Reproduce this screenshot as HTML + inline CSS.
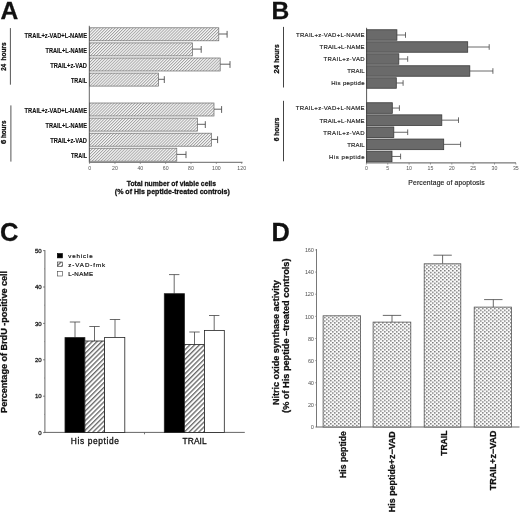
<!DOCTYPE html>
<html><head><meta charset="utf-8"><style>
html,body{margin:0;padding:0;background:#fff;width:520px;height:516px;overflow:hidden}
svg{display:block;font-family:"Liberation Sans", sans-serif;filter:blur(0.35px)}
</style></head><body>
<svg width="520" height="516" viewBox="0 0 520 516">
<defs>
<pattern id="hA" patternUnits="userSpaceOnUse" width="2.1" height="2.1" patternTransform="rotate(45)">
 <rect width="2.1" height="2.1" fill="#f6f6f6"/><rect width="0.9" height="2.1" fill="#a2a2a2"/></pattern>
<pattern id="hC" patternUnits="userSpaceOnUse" width="3.4" height="3.4" patternTransform="rotate(45)">
 <rect width="3.4" height="3.4" fill="#fff"/><rect width="1.35" height="3.4" fill="#6a6a6a"/></pattern>
<pattern id="hD" patternUnits="userSpaceOnUse" width="4" height="3.6">
 <rect width="4" height="3.6" fill="#fbfbfb"/><rect x="0" y="0" width="1.6" height="1.4" fill="#7c7c7c"/><rect x="2" y="1.8" width="1.6" height="1.4" fill="#7c7c7c"/></pattern>
</defs>
<text x="0.5" y="19.4" font-size="24.6" font-weight="bold" text-anchor="start" fill="#111" stroke="#111" stroke-width="0.28">A</text>
<line x1="10.4" y1="28.1" x2="10.4" y2="84.7" stroke="#555" stroke-width="1"/>
<line x1="10.9" y1="105.4" x2="10.9" y2="161.6" stroke="#555" stroke-width="1"/>
<text transform="translate(6.3,70.7) rotate(-90)" font-size="7.0" font-weight="bold" text-anchor="start" fill="#111" textLength="6.8" lengthAdjust="spacingAndGlyphs" stroke="#111" stroke-width="0.28">24</text>
<text transform="translate(6.3,60.4) rotate(-90)" font-size="7.0" font-weight="bold" text-anchor="start" fill="#111" textLength="18.0" lengthAdjust="spacingAndGlyphs" stroke="#111" stroke-width="0.28">hours</text>
<text transform="translate(6.4,144.0) rotate(-90)" font-size="7.0" font-weight="bold" text-anchor="start" fill="#111" textLength="4.3" lengthAdjust="spacingAndGlyphs" stroke="#111" stroke-width="0.28">6</text>
<text transform="translate(6.4,138.1) rotate(-90)" font-size="7.0" font-weight="bold" text-anchor="start" fill="#111" textLength="17.5" lengthAdjust="spacingAndGlyphs" stroke="#111" stroke-width="0.28">hours</text>
<rect x="89.6" y="27.8" width="129.20000000000002" height="13.0" fill="url(#hA)" stroke="#6a6a6a" stroke-width="0.7"/>
<line x1="218.8" y1="34.0" x2="227.1" y2="34.0" stroke="#444" stroke-width="0.85"/>
<line x1="227.1" y1="30.9" x2="227.1" y2="37.699999999999996" stroke="#444" stroke-width="0.85"/>
<text x="87" y="37.699999999999996" font-size="6.6" font-weight="bold" text-anchor="end" fill="#111" textLength="62.4" lengthAdjust="spacingAndGlyphs" stroke="#111" stroke-width="0.12">TRAIL+z-VAD+L-NAME</text>
<rect x="89.6" y="42.9" width="102.9" height="13.0" fill="url(#hA)" stroke="#6a6a6a" stroke-width="0.7"/>
<line x1="192.5" y1="49.1" x2="201.2" y2="49.1" stroke="#444" stroke-width="0.85"/>
<line x1="201.2" y1="46.0" x2="201.2" y2="52.8" stroke="#444" stroke-width="0.85"/>
<text x="87" y="52.8" font-size="6.6" font-weight="bold" text-anchor="end" fill="#111" textLength="41.5" lengthAdjust="spacingAndGlyphs" stroke="#111" stroke-width="0.12">TRAIL+L-NAME</text>
<rect x="89.6" y="58.0" width="130.6" height="13.0" fill="url(#hA)" stroke="#6a6a6a" stroke-width="0.7"/>
<line x1="220.2" y1="64.2" x2="230" y2="64.2" stroke="#444" stroke-width="0.85"/>
<line x1="230" y1="61.1" x2="230" y2="67.9" stroke="#444" stroke-width="0.85"/>
<text x="87" y="67.9" font-size="6.6" font-weight="bold" text-anchor="end" fill="#111" textLength="36.8" lengthAdjust="spacingAndGlyphs" stroke="#111" stroke-width="0.12">TRAIL+z-VAD</text>
<rect x="89.6" y="73.1" width="68.80000000000001" height="13.0" fill="url(#hA)" stroke="#6a6a6a" stroke-width="0.7"/>
<line x1="158.4" y1="79.3" x2="164.3" y2="79.3" stroke="#444" stroke-width="0.85"/>
<line x1="164.3" y1="76.19999999999999" x2="164.3" y2="83.0" stroke="#444" stroke-width="0.85"/>
<text x="87" y="83.0" font-size="6.6" font-weight="bold" text-anchor="end" fill="#111" textLength="16" lengthAdjust="spacingAndGlyphs" stroke="#111" stroke-width="0.12">TRAIL</text>
<rect x="89.6" y="103.0" width="124.4" height="13.0" fill="url(#hA)" stroke="#6a6a6a" stroke-width="0.7"/>
<line x1="214" y1="109.2" x2="221.6" y2="109.2" stroke="#444" stroke-width="0.85"/>
<line x1="221.6" y1="106.1" x2="221.6" y2="112.9" stroke="#444" stroke-width="0.85"/>
<text x="87" y="112.9" font-size="6.6" font-weight="bold" text-anchor="end" fill="#111" textLength="62.4" lengthAdjust="spacingAndGlyphs" stroke="#111" stroke-width="0.12">TRAIL+z-VAD+L-NAME</text>
<rect x="89.6" y="118.1" width="107.9" height="13.0" fill="url(#hA)" stroke="#6a6a6a" stroke-width="0.7"/>
<line x1="197.5" y1="124.3" x2="205.3" y2="124.3" stroke="#444" stroke-width="0.85"/>
<line x1="205.3" y1="121.19999999999999" x2="205.3" y2="128.0" stroke="#444" stroke-width="0.85"/>
<text x="87" y="128.0" font-size="6.6" font-weight="bold" text-anchor="end" fill="#111" textLength="41.5" lengthAdjust="spacingAndGlyphs" stroke="#111" stroke-width="0.12">TRAIL+L-NAME</text>
<rect x="89.6" y="133.2" width="122.0" height="13.0" fill="url(#hA)" stroke="#6a6a6a" stroke-width="0.7"/>
<line x1="211.6" y1="139.39999999999998" x2="217.6" y2="139.39999999999998" stroke="#444" stroke-width="0.85"/>
<line x1="217.6" y1="136.29999999999998" x2="217.6" y2="143.1" stroke="#444" stroke-width="0.85"/>
<text x="87" y="143.1" font-size="6.6" font-weight="bold" text-anchor="end" fill="#111" textLength="36.8" lengthAdjust="spacingAndGlyphs" stroke="#111" stroke-width="0.12">TRAIL+z-VAD</text>
<rect x="89.6" y="148.2" width="87.20000000000002" height="13.0" fill="url(#hA)" stroke="#6a6a6a" stroke-width="0.7"/>
<line x1="176.8" y1="154.39999999999998" x2="186" y2="154.39999999999998" stroke="#444" stroke-width="0.85"/>
<line x1="186" y1="151.29999999999998" x2="186" y2="158.1" stroke="#444" stroke-width="0.85"/>
<text x="87" y="158.1" font-size="6.6" font-weight="bold" text-anchor="end" fill="#111" textLength="16" lengthAdjust="spacingAndGlyphs" stroke="#111" stroke-width="0.12">TRAIL</text>
<line x1="89.3" y1="25.8" x2="89.3" y2="162.6" stroke="#555" stroke-width="0.9"/>
<line x1="89.3" y1="162.3" x2="242.5" y2="162.3" stroke="#555" stroke-width="0.9"/>
<line x1="89.6" y1="162.3" x2="89.6" y2="164" stroke="#666" stroke-width="0.6"/>
<text x="89.6" y="169.6" font-size="5.2" font-weight="normal" text-anchor="middle" fill="#555">0</text>
<line x1="114.94999999999999" y1="162.3" x2="114.94999999999999" y2="164" stroke="#666" stroke-width="0.6"/>
<text x="114.94999999999999" y="169.6" font-size="5.2" font-weight="normal" text-anchor="middle" fill="#555">20</text>
<line x1="140.3" y1="162.3" x2="140.3" y2="164" stroke="#666" stroke-width="0.6"/>
<text x="140.3" y="169.6" font-size="5.2" font-weight="normal" text-anchor="middle" fill="#555">40</text>
<line x1="165.65" y1="162.3" x2="165.65" y2="164" stroke="#666" stroke-width="0.6"/>
<text x="165.65" y="169.6" font-size="5.2" font-weight="normal" text-anchor="middle" fill="#555">60</text>
<line x1="191.0" y1="162.3" x2="191.0" y2="164" stroke="#666" stroke-width="0.6"/>
<text x="191.0" y="169.6" font-size="5.2" font-weight="normal" text-anchor="middle" fill="#555">80</text>
<line x1="216.35" y1="162.3" x2="216.35" y2="164" stroke="#666" stroke-width="0.6"/>
<text x="216.35" y="169.6" font-size="5.2" font-weight="normal" text-anchor="middle" fill="#555">100</text>
<line x1="241.70000000000002" y1="162.3" x2="241.70000000000002" y2="164" stroke="#666" stroke-width="0.6"/>
<text x="241.70000000000002" y="169.6" font-size="5.2" font-weight="normal" text-anchor="middle" fill="#555">120</text>
<text x="171.4" y="186.2" font-size="7" font-weight="bold" text-anchor="middle" fill="#111" textLength="89.2" lengthAdjust="spacingAndGlyphs" stroke="#111" stroke-width="0.28">Total number of viable cells</text>
<text x="172.3" y="194.2" font-size="7" font-weight="bold" text-anchor="middle" fill="#111" textLength="115" lengthAdjust="spacingAndGlyphs" stroke="#111" stroke-width="0.28">(% of His peptide-treated controls)</text>
<text x="271.6" y="19.4" font-size="24.6" font-weight="bold" text-anchor="start" fill="#111" stroke="#111" stroke-width="0.28">B</text>
<line x1="283.5" y1="26.9" x2="283.5" y2="87.5" stroke="#444" stroke-width="1"/>
<line x1="283.5" y1="100.8" x2="283.5" y2="161.3" stroke="#444" stroke-width="1"/>
<text transform="translate(278.8,73.5) rotate(-90)" font-size="6.8" font-weight="bold" text-anchor="start" fill="#111" textLength="8.5" lengthAdjust="spacingAndGlyphs" stroke="#111" stroke-width="0.28">24</text>
<text transform="translate(278.8,62.8) rotate(-90)" font-size="6.8" font-weight="bold" text-anchor="start" fill="#111" textLength="18.4" lengthAdjust="spacingAndGlyphs" stroke="#111" stroke-width="0.28">hours</text>
<text transform="translate(278.6,141.3) rotate(-90)" font-size="6.8" font-weight="bold" text-anchor="start" fill="#111" textLength="3.8" lengthAdjust="spacingAndGlyphs" stroke="#111" stroke-width="0.28">6</text>
<text transform="translate(278.6,135.7) rotate(-90)" font-size="6.8" font-weight="bold" text-anchor="start" fill="#111" textLength="18.1" lengthAdjust="spacingAndGlyphs" stroke="#111" stroke-width="0.28">hours</text>
<rect x="366.4" y="29.75" width="30.5" height="10.5" fill="#6a6a6a" stroke="#3a3a3a" stroke-width="0.8"/>
<line x1="396.9" y1="35.0" x2="405.5" y2="35.0" stroke="#444" stroke-width="0.8"/>
<line x1="405.5" y1="32.2" x2="405.5" y2="37.8" stroke="#444" stroke-width="0.8"/>
<text x="364.6" y="37.4" font-size="6" font-weight="normal" text-anchor="end" fill="#222" textLength="68.6" lengthAdjust="spacing" stroke="#222" stroke-width="0.16">TRAIL+z-VAD+L-NAME</text>
<rect x="366.4" y="41.75" width="101.30000000000001" height="10.5" fill="#6a6a6a" stroke="#3a3a3a" stroke-width="0.8"/>
<line x1="467.7" y1="47.0" x2="489.2" y2="47.0" stroke="#444" stroke-width="0.8"/>
<line x1="489.2" y1="44.2" x2="489.2" y2="49.8" stroke="#444" stroke-width="0.8"/>
<text x="364.6" y="49.4" font-size="6" font-weight="normal" text-anchor="end" fill="#222" textLength="45" lengthAdjust="spacing" stroke="#222" stroke-width="0.16">TRAIL+L-NAME</text>
<rect x="366.4" y="53.75" width="32.400000000000034" height="10.5" fill="#6a6a6a" stroke="#3a3a3a" stroke-width="0.8"/>
<line x1="398.8" y1="59.0" x2="407.7" y2="59.0" stroke="#444" stroke-width="0.8"/>
<line x1="407.7" y1="56.2" x2="407.7" y2="61.8" stroke="#444" stroke-width="0.8"/>
<text x="364.6" y="61.4" font-size="6" font-weight="normal" text-anchor="end" fill="#222" textLength="41.1" lengthAdjust="spacing" stroke="#222" stroke-width="0.16">TRAIL+z-VAD</text>
<rect x="366.4" y="65.75" width="103.40000000000003" height="10.5" fill="#6a6a6a" stroke="#3a3a3a" stroke-width="0.8"/>
<line x1="469.8" y1="71.0" x2="492.9" y2="71.0" stroke="#444" stroke-width="0.8"/>
<line x1="492.9" y1="68.2" x2="492.9" y2="73.8" stroke="#444" stroke-width="0.8"/>
<text x="364.6" y="73.4" font-size="6" font-weight="normal" text-anchor="end" fill="#222" textLength="17.3" lengthAdjust="spacing" stroke="#222" stroke-width="0.16">TRAIL</text>
<rect x="366.4" y="77.75" width="29.900000000000034" height="10.5" fill="#6a6a6a" stroke="#3a3a3a" stroke-width="0.8"/>
<line x1="396.3" y1="83.0" x2="403.1" y2="83.0" stroke="#444" stroke-width="0.8"/>
<line x1="403.1" y1="80.2" x2="403.1" y2="85.8" stroke="#444" stroke-width="0.8"/>
<text x="364.6" y="85.4" font-size="6" font-weight="normal" text-anchor="end" fill="#222" textLength="33.4" lengthAdjust="spacing" stroke="#222" stroke-width="0.16">His peptide</text>
<rect x="366.4" y="102.75" width="25.900000000000034" height="10.6" fill="#6a6a6a" stroke="#3a3a3a" stroke-width="0.8"/>
<line x1="392.3" y1="108.05" x2="399.4" y2="108.05" stroke="#444" stroke-width="0.8"/>
<line x1="399.4" y1="105.25" x2="399.4" y2="110.85" stroke="#444" stroke-width="0.8"/>
<text x="364.6" y="110.45" font-size="6" font-weight="normal" text-anchor="end" fill="#222" textLength="68.8" lengthAdjust="spacing" stroke="#222" stroke-width="0.16">TRAIL+z-VAD+L-NAME</text>
<rect x="366.4" y="114.85" width="75.40000000000003" height="10.6" fill="#6a6a6a" stroke="#3a3a3a" stroke-width="0.8"/>
<line x1="441.8" y1="120.14999999999999" x2="458.5" y2="120.14999999999999" stroke="#444" stroke-width="0.8"/>
<line x1="458.5" y1="117.35" x2="458.5" y2="122.94999999999999" stroke="#444" stroke-width="0.8"/>
<text x="364.6" y="122.55" font-size="6" font-weight="normal" text-anchor="end" fill="#222" textLength="45.2" lengthAdjust="spacing" stroke="#222" stroke-width="0.16">TRAIL+L-NAME</text>
<rect x="366.4" y="126.95" width="27.400000000000034" height="10.6" fill="#6a6a6a" stroke="#3a3a3a" stroke-width="0.8"/>
<line x1="393.8" y1="132.25" x2="407.7" y2="132.25" stroke="#444" stroke-width="0.8"/>
<line x1="407.7" y1="129.45" x2="407.7" y2="135.05" stroke="#444" stroke-width="0.8"/>
<text x="364.6" y="134.65" font-size="6" font-weight="normal" text-anchor="end" fill="#222" textLength="41.3" lengthAdjust="spacing" stroke="#222" stroke-width="0.16">TRAIL+z-VAD</text>
<rect x="366.4" y="139.05" width="77.30000000000001" height="10.6" fill="#6a6a6a" stroke="#3a3a3a" stroke-width="0.8"/>
<line x1="443.7" y1="144.35000000000002" x2="460.6" y2="144.35000000000002" stroke="#444" stroke-width="0.8"/>
<line x1="460.6" y1="141.55" x2="460.6" y2="147.15000000000003" stroke="#444" stroke-width="0.8"/>
<text x="364.6" y="146.75000000000003" font-size="6" font-weight="normal" text-anchor="end" fill="#222" textLength="17.3" lengthAdjust="spacing" stroke="#222" stroke-width="0.16">TRAIL</text>
<rect x="366.4" y="151.15" width="25.600000000000023" height="10.6" fill="#6a6a6a" stroke="#3a3a3a" stroke-width="0.8"/>
<line x1="392" y1="156.45000000000002" x2="400.6" y2="156.45000000000002" stroke="#444" stroke-width="0.8"/>
<line x1="400.6" y1="153.65" x2="400.6" y2="159.25000000000003" stroke="#444" stroke-width="0.8"/>
<text x="364.6" y="158.85000000000002" font-size="6" font-weight="normal" text-anchor="end" fill="#222" textLength="35.5" lengthAdjust="spacing" stroke="#222" stroke-width="0.16">His peptide</text>
<line x1="366.6" y1="27.8" x2="366.6" y2="163.2" stroke="#444" stroke-width="0.9"/>
<line x1="366.6" y1="162.9" x2="516" y2="162.9" stroke="#444" stroke-width="0.9"/>
<line x1="366.4" y1="162.9" x2="366.4" y2="164.6" stroke="#666" stroke-width="0.6"/>
<text x="366.4" y="170" font-size="5.2" font-weight="normal" text-anchor="middle" fill="#555">0</text>
<line x1="387.75" y1="162.9" x2="387.75" y2="164.6" stroke="#666" stroke-width="0.6"/>
<text x="387.75" y="170" font-size="5.2" font-weight="normal" text-anchor="middle" fill="#555">5</text>
<line x1="409.09999999999997" y1="162.9" x2="409.09999999999997" y2="164.6" stroke="#666" stroke-width="0.6"/>
<text x="409.09999999999997" y="170" font-size="5.2" font-weight="normal" text-anchor="middle" fill="#555">10</text>
<line x1="430.45" y1="162.9" x2="430.45" y2="164.6" stroke="#666" stroke-width="0.6"/>
<text x="430.45" y="170" font-size="5.2" font-weight="normal" text-anchor="middle" fill="#555">15</text>
<line x1="451.79999999999995" y1="162.9" x2="451.79999999999995" y2="164.6" stroke="#666" stroke-width="0.6"/>
<text x="451.79999999999995" y="170" font-size="5.2" font-weight="normal" text-anchor="middle" fill="#555">20</text>
<line x1="473.15" y1="162.9" x2="473.15" y2="164.6" stroke="#666" stroke-width="0.6"/>
<text x="473.15" y="170" font-size="5.2" font-weight="normal" text-anchor="middle" fill="#555">25</text>
<line x1="494.5" y1="162.9" x2="494.5" y2="164.6" stroke="#666" stroke-width="0.6"/>
<text x="494.5" y="170" font-size="5.2" font-weight="normal" text-anchor="middle" fill="#555">30</text>
<line x1="515.8499999999999" y1="162.9" x2="515.8499999999999" y2="164.6" stroke="#666" stroke-width="0.6"/>
<text x="515.8499999999999" y="170" font-size="5.2" font-weight="normal" text-anchor="middle" fill="#555">35</text>
<text x="446.5" y="184.5" font-size="6.8" font-weight="normal" text-anchor="middle" fill="#222" textLength="76.3" lengthAdjust="spacing" stroke="#222" stroke-width="0.16">Percentage of apoptosis</text>
<text x="0.0" y="240.5" font-size="25.6" font-weight="bold" text-anchor="start" fill="#111" stroke="#111" stroke-width="0.28">C</text>
<line x1="44.9" y1="250.1" x2="44.9" y2="432.8" stroke="#555" stroke-width="0.9"/>
<line x1="44.6" y1="432.4" x2="244.8" y2="432.4" stroke="#555" stroke-width="0.9"/>
<line x1="43.0" y1="432.6" x2="44.9" y2="432.6" stroke="#555" stroke-width="0.7"/>
<text x="41.7" y="434.70000000000005" font-size="6.1" font-weight="normal" text-anchor="end" fill="#222" stroke="#222" stroke-width="0.3">0</text>
<line x1="43.0" y1="396.20000000000005" x2="44.9" y2="396.20000000000005" stroke="#555" stroke-width="0.7"/>
<text x="41.7" y="398.30000000000007" font-size="6.1" font-weight="normal" text-anchor="end" fill="#222" stroke="#222" stroke-width="0.3">10</text>
<line x1="43.0" y1="359.8" x2="44.9" y2="359.8" stroke="#555" stroke-width="0.7"/>
<text x="41.7" y="361.90000000000003" font-size="6.1" font-weight="normal" text-anchor="end" fill="#222" stroke="#222" stroke-width="0.3">20</text>
<line x1="43.0" y1="323.40000000000003" x2="44.9" y2="323.40000000000003" stroke="#555" stroke-width="0.7"/>
<text x="41.7" y="325.50000000000006" font-size="6.1" font-weight="normal" text-anchor="end" fill="#222" stroke="#222" stroke-width="0.3">30</text>
<line x1="43.0" y1="287.0" x2="44.9" y2="287.0" stroke="#555" stroke-width="0.7"/>
<text x="41.7" y="289.1" font-size="6.1" font-weight="normal" text-anchor="end" fill="#222" stroke="#222" stroke-width="0.3">40</text>
<line x1="43.0" y1="250.60000000000002" x2="44.9" y2="250.60000000000002" stroke="#555" stroke-width="0.7"/>
<text x="41.7" y="252.70000000000002" font-size="6.1" font-weight="normal" text-anchor="end" fill="#222" stroke="#222" stroke-width="0.3">50</text>
<line x1="44.0" y1="414.40000000000003" x2="44.9" y2="414.40000000000003" stroke="#777" stroke-width="0.6"/>
<line x1="44.0" y1="378.0" x2="44.9" y2="378.0" stroke="#777" stroke-width="0.6"/>
<line x1="44.0" y1="341.6" x2="44.9" y2="341.6" stroke="#777" stroke-width="0.6"/>
<line x1="44.0" y1="305.20000000000005" x2="44.9" y2="305.20000000000005" stroke="#777" stroke-width="0.6"/>
<line x1="44.0" y1="268.8" x2="44.9" y2="268.8" stroke="#777" stroke-width="0.6"/>
<line x1="144.5" y1="432.4" x2="144.5" y2="434.3" stroke="#555" stroke-width="0.8"/>
<rect x="57.3" y="253.5" width="5.2" height="4.4" fill="#000" stroke="#000" stroke-width="0.6"/>
<rect x="57.3" y="262.0" width="5.2" height="4.4" fill="url(#hC)" stroke="#333" stroke-width="0.6"/>
<rect x="57.3" y="271.4" width="5.2" height="4.6" fill="#fff" stroke="#444" stroke-width="0.6"/>
<text x="68.2" y="258" font-size="6.2" font-weight="normal" text-anchor="start" fill="#111" textLength="24.6" lengthAdjust="spacing" stroke="#111" stroke-width="0.2">vehicle</text>
<text x="68.2" y="266.7" font-size="6.2" font-weight="normal" text-anchor="start" fill="#111" textLength="37" lengthAdjust="spacing" stroke="#111" stroke-width="0.2">z-VAD-fmk</text>
<text x="68.2" y="276" font-size="6.2" font-weight="normal" text-anchor="start" fill="#111" textLength="25" lengthAdjust="spacing" stroke="#111" stroke-width="0.2">L-NAME</text>
<line x1="75" y1="322" x2="75" y2="337.6" stroke="#444" stroke-width="0.8"/>
<line x1="69.8" y1="322" x2="80.2" y2="322" stroke="#444" stroke-width="0.8"/>
<line x1="94.5" y1="326.5" x2="94.5" y2="341" stroke="#444" stroke-width="0.8"/>
<line x1="89.3" y1="326.5" x2="99.7" y2="326.5" stroke="#444" stroke-width="0.8"/>
<line x1="115" y1="319.5" x2="115" y2="337.4" stroke="#444" stroke-width="0.8"/>
<line x1="109.8" y1="319.5" x2="120.2" y2="319.5" stroke="#444" stroke-width="0.8"/>
<line x1="174.2" y1="274.6" x2="174.2" y2="293.7" stroke="#444" stroke-width="0.8"/>
<line x1="169.0" y1="274.6" x2="179.39999999999998" y2="274.6" stroke="#444" stroke-width="0.8"/>
<line x1="194.5" y1="332" x2="194.5" y2="344.4" stroke="#444" stroke-width="0.8"/>
<line x1="189.3" y1="332" x2="199.7" y2="332" stroke="#444" stroke-width="0.8"/>
<line x1="214.2" y1="315.5" x2="214.2" y2="330.4" stroke="#444" stroke-width="0.8"/>
<line x1="209.0" y1="315.5" x2="219.39999999999998" y2="315.5" stroke="#444" stroke-width="0.8"/>
<rect x="65" y="337.6" width="19.900000000000006" height="94.79999999999995" fill="#000" stroke="#222" stroke-width="0.8"/>
<rect x="84.9" y="341" width="19.69999999999999" height="91.39999999999998" fill="url(#hC)" stroke="#222" stroke-width="0.8"/>
<rect x="104.6" y="337.4" width="20.200000000000003" height="95.0" fill="#fff" stroke="#222" stroke-width="0.8"/>
<rect x="164.3" y="293.7" width="20.099999999999994" height="138.7" fill="#000" stroke="#222" stroke-width="0.8"/>
<rect x="184.4" y="344.4" width="20.0" height="88.0" fill="url(#hC)" stroke="#222" stroke-width="0.8"/>
<rect x="204.4" y="330.4" width="19.900000000000006" height="102.0" fill="#fff" stroke="#222" stroke-width="0.8"/>
<text x="94.9" y="443.8" font-size="8.4" font-weight="normal" text-anchor="middle" fill="#111" textLength="48.2" lengthAdjust="spacing" stroke="#111" stroke-width="0.3">His peptide</text>
<text x="194.6" y="443.7" font-size="8.4" font-weight="normal" text-anchor="middle" fill="#111" textLength="24.2" lengthAdjust="spacing" stroke="#111" stroke-width="0.3">TRAIL</text>
<text transform="translate(7.3,341.9) rotate(-90)" font-size="8.5" font-weight="bold" text-anchor="middle" fill="#111" textLength="142" lengthAdjust="spacingAndGlyphs" stroke="#111" stroke-width="0.28">Percentage of BrdU -positive cell</text>
<text x="271.4" y="240.6" font-size="25.4" font-weight="bold" text-anchor="start" fill="#111" stroke="#111" stroke-width="0.28">D</text>
<line x1="316.5" y1="249.0" x2="316.5" y2="427.3" stroke="#555" stroke-width="0.8"/>
<line x1="316.5" y1="427.0" x2="519.5" y2="427.0" stroke="#555" stroke-width="0.9"/>
<line x1="315.0" y1="427.0" x2="316.5" y2="427.0" stroke="#777" stroke-width="0.6"/>
<text x="313.9" y="429.2" font-size="5.6" font-weight="normal" text-anchor="end" fill="#555" textLength="3.0" lengthAdjust="spacing">0</text>
<line x1="315.0" y1="404.87" x2="316.5" y2="404.87" stroke="#777" stroke-width="0.6"/>
<text x="313.9" y="407.07" font-size="5.6" font-weight="normal" text-anchor="end" fill="#555" textLength="6.0" lengthAdjust="spacing">20</text>
<line x1="315.0" y1="382.74" x2="316.5" y2="382.74" stroke="#777" stroke-width="0.6"/>
<text x="313.9" y="384.94" font-size="5.6" font-weight="normal" text-anchor="end" fill="#555" textLength="6.0" lengthAdjust="spacing">40</text>
<line x1="315.0" y1="360.61" x2="316.5" y2="360.61" stroke="#777" stroke-width="0.6"/>
<text x="313.9" y="362.81" font-size="5.6" font-weight="normal" text-anchor="end" fill="#555" textLength="6.0" lengthAdjust="spacing">60</text>
<line x1="315.0" y1="338.48" x2="316.5" y2="338.48" stroke="#777" stroke-width="0.6"/>
<text x="313.9" y="340.68" font-size="5.6" font-weight="normal" text-anchor="end" fill="#555" textLength="6.0" lengthAdjust="spacing">80</text>
<line x1="315.0" y1="316.35" x2="316.5" y2="316.35" stroke="#777" stroke-width="0.6"/>
<text x="313.9" y="318.55" font-size="5.6" font-weight="normal" text-anchor="end" fill="#555" textLength="9.0" lengthAdjust="spacing">100</text>
<line x1="315.0" y1="294.22" x2="316.5" y2="294.22" stroke="#777" stroke-width="0.6"/>
<text x="313.9" y="296.42" font-size="5.6" font-weight="normal" text-anchor="end" fill="#555" textLength="9.0" lengthAdjust="spacing">120</text>
<line x1="315.0" y1="272.09000000000003" x2="316.5" y2="272.09000000000003" stroke="#777" stroke-width="0.6"/>
<text x="313.9" y="274.29" font-size="5.6" font-weight="normal" text-anchor="end" fill="#555" textLength="9.0" lengthAdjust="spacing">140</text>
<line x1="315.0" y1="249.95999999999998" x2="316.5" y2="249.95999999999998" stroke="#777" stroke-width="0.6"/>
<text x="313.9" y="252.15999999999997" font-size="5.6" font-weight="normal" text-anchor="end" fill="#555" textLength="9.0" lengthAdjust="spacing">160</text>
<rect x="323.1" y="315.8" width="37.5" height="111.19999999999999" fill="url(#hD)" stroke="#555" stroke-width="0.8"/>
<line x1="392" y1="315.4" x2="392" y2="322.1" stroke="#444" stroke-width="0.8"/>
<line x1="382.8" y1="315.4" x2="401.2" y2="315.4" stroke="#444" stroke-width="0.8"/>
<rect x="373.1" y="322.1" width="37.69999999999999" height="104.89999999999998" fill="url(#hD)" stroke="#555" stroke-width="0.8"/>
<line x1="442.6" y1="255.2" x2="442.6" y2="263.8" stroke="#444" stroke-width="0.8"/>
<line x1="433.40000000000003" y1="255.2" x2="451.8" y2="255.2" stroke="#444" stroke-width="0.8"/>
<rect x="424.2" y="263.8" width="36.60000000000002" height="163.2" fill="url(#hD)" stroke="#555" stroke-width="0.8"/>
<line x1="493.3" y1="299.6" x2="493.3" y2="307.1" stroke="#444" stroke-width="0.8"/>
<line x1="484.1" y1="299.6" x2="502.5" y2="299.6" stroke="#444" stroke-width="0.8"/>
<rect x="474.2" y="307.1" width="37.30000000000001" height="119.89999999999998" fill="url(#hD)" stroke="#555" stroke-width="0.8"/>
<text transform="translate(279.3,342.65) rotate(-90)" font-size="8.7" font-weight="bold" text-anchor="middle" fill="#111" textLength="124.9" lengthAdjust="spacingAndGlyphs" stroke="#111" stroke-width="0.28">Nitric oxide synthase activity</text>
<text transform="translate(289.4,335.7) rotate(-90)" font-size="8.7" font-weight="bold" text-anchor="middle" fill="#111" textLength="154.4" lengthAdjust="spacingAndGlyphs" stroke="#111" stroke-width="0.28">(% of His peptide –treated controls)</text>
<text transform="translate(346.0,431.2) rotate(-90)" font-size="8.8" font-weight="bold" text-anchor="end" fill="#111" textLength="46.7" lengthAdjust="spacingAndGlyphs" stroke="#111" stroke-width="0.28">His peptide</text>
<text transform="translate(395.3,431.2) rotate(-90)" font-size="8.8" font-weight="bold" text-anchor="end" fill="#111" textLength="81" lengthAdjust="spacingAndGlyphs" stroke="#111" stroke-width="0.28">His peptide+z−VAD</text>
<text transform="translate(446.6,430.6) rotate(-90)" font-size="8.8" font-weight="bold" text-anchor="end" fill="#111" textLength="25.2" lengthAdjust="spacingAndGlyphs" stroke="#111" stroke-width="0.28">TRAIL</text>
<text transform="translate(496.3,430.6) rotate(-90)" font-size="8.8" font-weight="bold" text-anchor="end" fill="#111" textLength="59.6" lengthAdjust="spacingAndGlyphs" stroke="#111" stroke-width="0.28">TRAIL+z−VAD</text>
</svg>
</body></html>
